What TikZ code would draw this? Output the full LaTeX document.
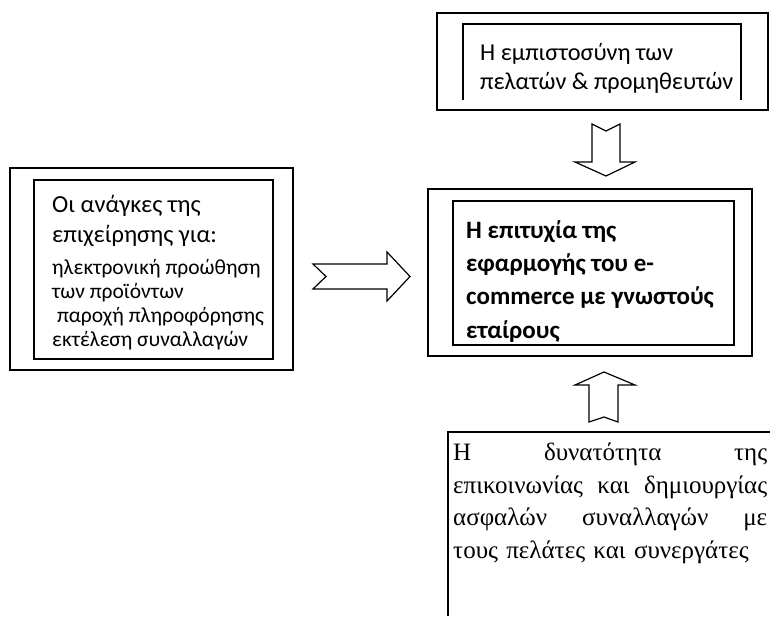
\documentclass[tikz,border=0pt]{standalone}
\usepackage{fontspec}
\setmainfont{Carlito}
\newfontfamily\serifgr{Liberation Serif}
\begin{document}
\begin{tikzpicture}[x=1pt,y=-1pt,
  outerbox/.style={draw,line width=1.8pt,fill=white},
  innerbox/.style={draw,line width=1.1pt},
  blockarrow/.style={draw,line width=1.2pt,line join=miter,fill=white},
  txt/.style={inner sep=0pt,anchor=north west,align=left}]
\useasboundingbox (0,0) rectangle (770,616);
\fill[white] (0,0) rectangle (770,616);
% left box
\draw[outerbox] (10,168) rectangle (293,370);
\draw[innerbox] (34,180) rectangle (273,359);
\node[txt,font=\fontsize{24.5}{30}\selectfont] (ltitle) at (52,195) {Οι ανάγκες της\\επιχείρησης για:};
\node[txt,font=\fontsize{21.5}{23.8}\selectfont] (llist) at (52,259.5) {ηλεκτρονική προώθηση\\των προϊόντων\\\ παροχή πληροφόρησης\\εκτέλεση συναλλαγών};
% top box
\draw[outerbox] (437,13) rectangle (768,110);
\draw[innerbox] (463,100) -- (463,24) -- (741,24) -- (741,100);
\node[txt,font=\fontsize{24.3}{29}\selectfont] (ttext) at (480,43) {Η εμπιστοσύνη των\\πελατών \& προμηθευτών};
% middle box
\draw[outerbox] (428,189) rectangle (752,356);
\draw[innerbox] (453,201) rectangle (734,345);
\node[txt,font=\bfseries\fontsize{25}{33.4}\selectfont] (mtext) at (466,220) {Η επιτυχία της\\εφαρμογής του e-\\commerce με γνωστούς\\εταίρους};
% bottom box
\draw[line width=1.4pt] (448,616) -- (448,432) -- (772,432);
\node[txt,text width=314pt,font=\serifgr\fontsize{25}{32.4}\selectfont] (btext) at (453,443) {\makebox[314pt][l]{Η\hfill δυνατότητα\hfill της}\\\makebox[314pt][l]{επικοινωνίας\hfill και\hfill δημιουργίας}\\\makebox[314pt][l]{ασφαλών\hfill συναλλαγών\hfill με}\\τους πελάτες και συνεργάτες};
% arrows
\draw[blockarrow] (313,264) -- (387,264) -- (387,252) -- (410,276.5) -- (387,301) -- (387,289) -- (313,289) -- (326,276.5) -- cycle;
\draw[blockarrow] (592,124) -- (606,131) -- (620,124) -- (620,162) -- (635,162) -- (606,176) -- (575,162) -- (592,162) -- cycle;
\draw[blockarrow] (604,372) -- (635,385) -- (618,385) -- (618,422) -- (604,417) -- (589,422) -- (589,385) -- (575,385) -- cycle;
\end{tikzpicture}
\end{document}
